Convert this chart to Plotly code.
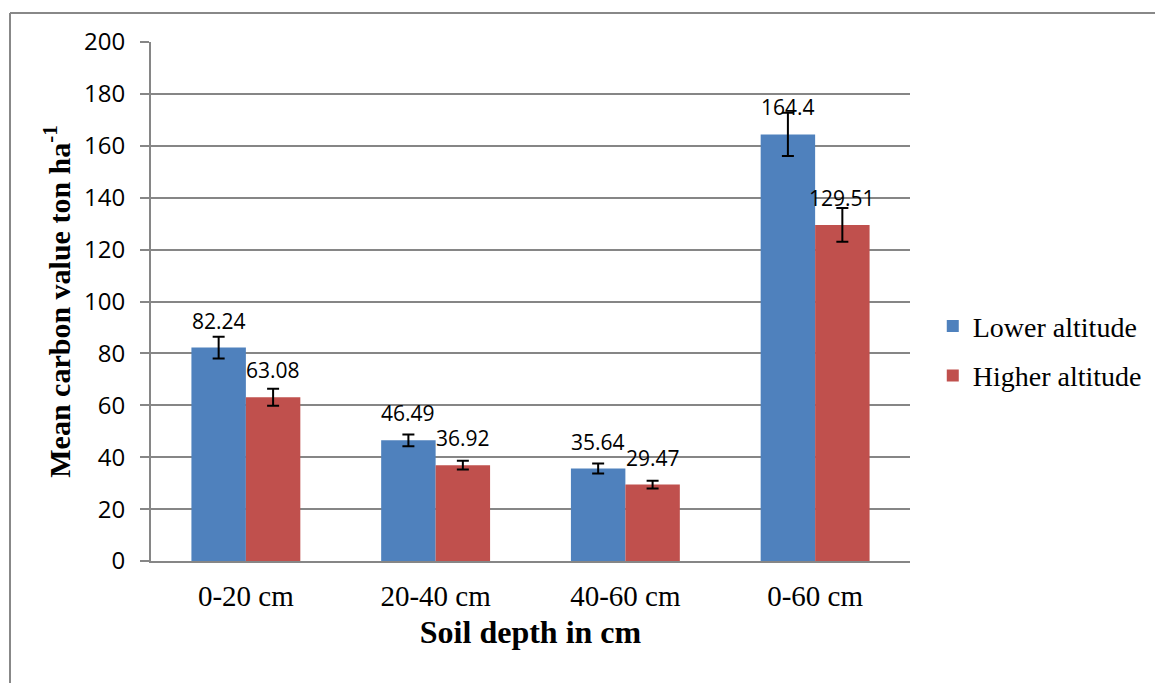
import plotly.graph_objects as go

categories = ["0-20 cm", "20-40 cm", "40-60 cm", "0-60 cm"]
lower_altitude = [82.24, 46.49, 35.64, 164.4]
higher_altitude = [63.08, 36.92, 29.47, 129.51]
lower_err = [4.2, 2.3, 1.9, 8.3]
higher_err = [3.3, 1.7, 1.5, 6.5]
lower_labels = ["82.24", "46.49", "35.64", "164.4"]
higher_labels = ["63.08", "36.92", "29.47", "129.51"]
y_ticks = list(range(0, 201, 20))

BLUE = "#4F81BD"
RED = "#C0504D"
GRID = "#868686"
SERIF = "Liberation Serif, Times New Roman, serif"
SANS = "Open Sans, Lato, sans-serif"

W, H = 1155, 675
L, T = 143, 34
pw, ph = 759, 519
R, B = W - L - pw, H - T - ph

bargap = 0.426
fig = go.Figure()
fig.add_trace(go.Bar(
    x=categories, y=lower_altitude, name="Lower altitude", legendgroup="a",
    marker=dict(color=BLUE, line=dict(width=0)),
    error_y=dict(type="data", array=lower_err, color="black", thickness=2, width=6),
))
fig.add_trace(go.Bar(
    x=categories, y=higher_altitude, name="Higher altitude", legendgroup="b",
    marker=dict(color=RED, line=dict(width=0)),
    error_y=dict(type="data", array=higher_err, color="black", thickness=2, width=6),
))

# data labels above bars
bw = (1 - bargap) / 2
for i, (v, t) in enumerate(zip(lower_altitude, lower_labels)):
    fig.add_annotation(x=i - bw / 2, y=v, text=t, showarrow=False, yanchor="bottom",
                       yshift=11, font=dict(family=SANS, size=21, color="black"))
for i, (v, t) in enumerate(zip(higher_altitude, higher_labels)):
    fig.add_annotation(x=i + bw / 2, y=v, text=t, showarrow=False, yanchor="bottom",
                       yshift=11, font=dict(family=SANS, size=21, color="black"))

# outer frame lines (page pixel x=10, y=13 -> figure coords minus 8px body margin)
fy = (T + ph - (13 - 8)) / ph
fx = ((10 - 8) - L) / pw
fig.add_shape(type="line", xref="paper", yref="paper", x0=fx, x1=(W - L) / pw + 0.02, y0=fy, y1=fy,
              line=dict(color="#888888", width=2))
fig.add_shape(type="line", xref="paper", yref="paper", x0=fx, x1=fx, y0=fy, y1=-B / ph - 0.05,
              line=dict(color="#888888", width=2))

fig.update_layout(
    width=W, height=H,
    margin=dict(l=L, r=R, t=T, b=B, autoexpand=False),
    paper_bgcolor="white", plot_bgcolor="white",
    barmode="group", bargap=bargap, bargroupgap=0,
    showlegend=True,
    legend=dict(x=1.03, y=0.405, xanchor="left", yanchor="middle",
                font=dict(family=SERIF, size=28, color="black"),
                tracegroupgap=10, traceorder="grouped", itemwidth=30,
                bgcolor="rgba(0,0,0,0)"),
    xaxis=dict(
        type="category", showline=True, linecolor=GRID, linewidth=2,
        ticks="", tickfont=dict(family=SERIF, size=29, color="black"),
        ticklabelstandoff=8,
        title=dict(text="<b>Soil depth in cm</b>", font=dict(family=SERIF, size=32, color="black"), standoff=10),
        showgrid=False,
    ),
    yaxis=dict(
        range=[0, 200], tickvals=y_ticks, showline=True, linecolor=GRID, linewidth=2,
        ticks="outside", ticklen=9, tickcolor=GRID, tickwidth=2,
        tickfont=dict(family=SANS, size=24, color="black"),
        ticklabelstandoff=10,
        showgrid=True, gridcolor=GRID, gridwidth=1.5, zeroline=False,
        title=dict(text="<b>Mean carbon value ton ha<sup>-1</sup></b>",
                   font=dict(family=SERIF, size=30, color="black"), standoff=5),
    ),
)
fig.write_html("out.html")
